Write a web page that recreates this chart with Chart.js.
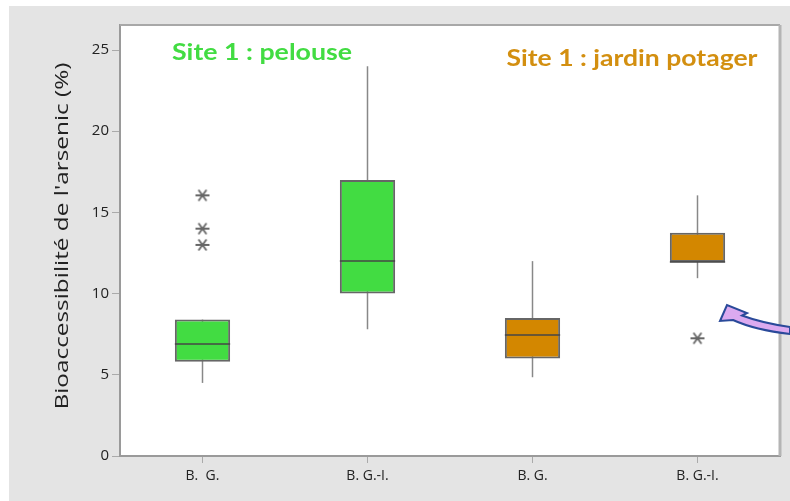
<!DOCTYPE html>
<html lang="fr">
<head>
<meta charset="UTF-8">
<title>Bioaccessibilité de l'arsenic</title>
<script src="https://cdn.jsdelivr.net/npm/chart.js"></script>
<style>
  html, body { margin: 0; padding: 0; background: #fff; }
  #wrap { width: 790px; height: 501px; }
</style>
</head>
<body>
<div id="wrap"><canvas id="boxChart" width="790" height="501"></canvas></div>
<script>
// boites a moustaches : site 1, pelouse (vert) et jardin potager (orange)
const categories = ['B.  G.', 'B. G.-I.', 'B. G.', 'B. G.-I.'];
const boxMin    = [4.5, 7.8, 4.85, 10.95];
const boxQ1     = [5.8, 10.0, 6.0, 11.95];
const boxMedian = [6.9, 12.0, 7.45, 11.95];
const boxQ3     = [8.4, 17.0, 8.5, 13.75];
const boxMax    = [8.4, 24.0, 12.0, 16.05];
const outlierCat = [0, 0, 0, 3];
const outlierVal = [16.05, 14.0, 13.0, 7.25];
const boxColors = ['#42dc42', '#42dc42', '#d38700', '#d38700'];
const yTicks = [0, 5, 10, 15, 20, 25];

// asterisque pour les valeurs aberrantes
const star = document.createElement('canvas');
star.width = 16; star.height = 14;
const sc = star.getContext('2d');
sc.strokeStyle = '#666';
sc.lineWidth = 1.8;
sc.beginPath();
sc.moveTo(1, 7); sc.lineTo(15, 7);
sc.moveTo(4, 1.5); sc.lineTo(12, 12.5);
sc.moveTo(12, 1.5); sc.lineTo(4, 12.5);
sc.stroke();

// un jeu de points par valeur aberrante (null ailleurs)
const outlierSets = outlierVal.map((v, i) => ({
  type: 'line',
  data: categories.map((c, k) => (k === outlierCat[i] ? v : null)),
  showLine: false,
  pointStyle: star,
  pointRadius: 7,
  order: -1
}));

function fitText(ctx, text, x, y, width, font, color, rot) {
  ctx.save();
  ctx.font = font;
  ctx.fillStyle = color;
  ctx.textAlign = 'center';
  ctx.textBaseline = 'middle';
  const w = ctx.measureText(text).width;
  ctx.translate(x, y);
  if (rot) ctx.rotate(rot);
  ctx.scale(width / w, 1);
  ctx.fillText(text, 0, 0);
  ctx.restore();
}

const boxPlot = {
  id: 'boxPlot',
  beforeDraw(chart) {
    const ctx = chart.ctx, a = chart.chartArea;
    ctx.save();
    ctx.fillStyle = '#fff';
    ctx.fillRect(0, 0, chart.width, chart.height);
    ctx.fillStyle = '#e4e4e4';
    ctx.fillRect(9, 6, chart.width - 9, chart.height - 6);
    ctx.fillStyle = '#fff';
    ctx.fillRect(a.left, a.top, a.right - a.left, a.bottom - a.top);
    ctx.restore();
  },
  beforeDatasetsDraw(chart) {
    // moustaches (sous les boites)
    const ctx = chart.ctx, y = chart.scales.y;
    const bars = chart.getDatasetMeta(0).data;
    ctx.save();
    ctx.strokeStyle = '#888';
    ctx.lineWidth = 1.5;
    bars.forEach((b, i) => {
      ctx.beginPath();
      ctx.moveTo(b.x, y.getPixelForValue(boxMin[i]));
      ctx.lineTo(b.x, y.getPixelForValue(boxMax[i]));
      ctx.stroke();
    });
    ctx.restore();
  },
  afterDatasetsDraw(chart) {
    // medianes
    const ctx = chart.ctx, y = chart.scales.y;
    const bars = chart.getDatasetMeta(0).data;
    ctx.save();
    ctx.strokeStyle = 'rgba(70,70,70,0.75)';
    ctx.lineWidth = 2;
    bars.forEach((b, i) => {
      const py = y.getPixelForValue(boxMedian[i]);
      ctx.beginPath();
      ctx.moveTo(b.x - b.width / 2, py);
      ctx.lineTo(b.x + b.width / 2, py);
      ctx.stroke();
    });
    ctx.restore();
  },
  afterDraw(chart) {
    const ctx = chart.ctx, a = chart.chartArea;
    ctx.save();
    // cadre haut et droit
    ctx.strokeStyle = '#a8a8a8';
    ctx.lineWidth = 2;
    ctx.beginPath();
    ctx.moveTo(a.left, a.top);
    ctx.lineTo(a.right, a.top);
    ctx.stroke();
    ctx.lineWidth = 3;
    ctx.strokeStyle = '#b4b4b4';
    ctx.beginPath();
    ctx.moveTo(a.right, a.top);
    ctx.lineTo(a.right, a.bottom);
    ctx.stroke();

    fitText(ctx, 'Site 1 : pelouse', 262, 53, 180, 'bold 22px Lato', '#42dc42');
    fitText(ctx, 'Site 1 : jardin potager', 632, 59, 251, 'bold 22px Lato', '#d38f10');
    fitText(ctx, "Bioaccessibilité de l'arsenic (%)", 63, 236, 347,
      '18px "Open Sans"', '#222', -Math.PI / 2);

    // fleche courbe
    ctx.beginPath();
    ctx.moveTo(720, 321);
    ctx.lineTo(727, 305);
    ctx.lineTo(747, 313);
    ctx.lineTo(742, 315.5);
    ctx.quadraticCurveTo(762, 323, 790, 327);
    ctx.lineTo(790, 334);
    ctx.quadraticCurveTo(755, 330, 733, 320);
    ctx.closePath();
    ctx.fillStyle = '#dcaaf0';
    ctx.fill();
    ctx.strokeStyle = '#2a4a9a';
    ctx.lineWidth = 2;
    ctx.lineJoin = 'miter';
    ctx.stroke();
    ctx.restore();
  }
};

const chart = new Chart(document.getElementById('boxChart'), {
  type: 'bar',
  data: {
    labels: categories,
    datasets: [{
      data: boxQ1.map((q, i) => [q, boxQ3[i]]),
      backgroundColor: boxColors,
      borderColor: '#666',
      borderWidth: 2,
      borderSkipped: false,
      barPercentage: 0.335,
      categoryPercentage: 1
    }, ...outlierSets]
  },
  options: {
    responsive: false,
    devicePixelRatio: 1,
    animation: false,
    layout: { padding: { top: 25, right: 10, left: 0, bottom: 0 } },
    plugins: { legend: { display: false }, tooltip: { enabled: false } },
    scales: {
      x: {
        offset: true,
        grid: { drawOnChartArea: false, offset: false, tickLength: 7, color: '#aaa' },
        border: { color: '#9a9a9a', width: 2 },
        ticks: { color: '#222', font: { family: 'Open Sans', size: 14 }, padding: 5 },
        afterFit: s => { s.height = 45; }
      },
      y: {
        min: 0,
        max: 26.54,
        afterBuildTicks: s => { s.ticks = yTicks.map(v => ({ value: v })); },
        grid: { drawOnChartArea: false, tickLength: 8, color: '#aaa' },
        border: { color: '#9a9a9a', width: 2 },
        ticks: { color: '#222', font: { family: 'Open Sans', size: 15 }, padding: 3 },
        afterFit: s => { s.width = 120; }
      }
    }
  },
  plugins: [boxPlot]
});
</script>
</body>
</html>
